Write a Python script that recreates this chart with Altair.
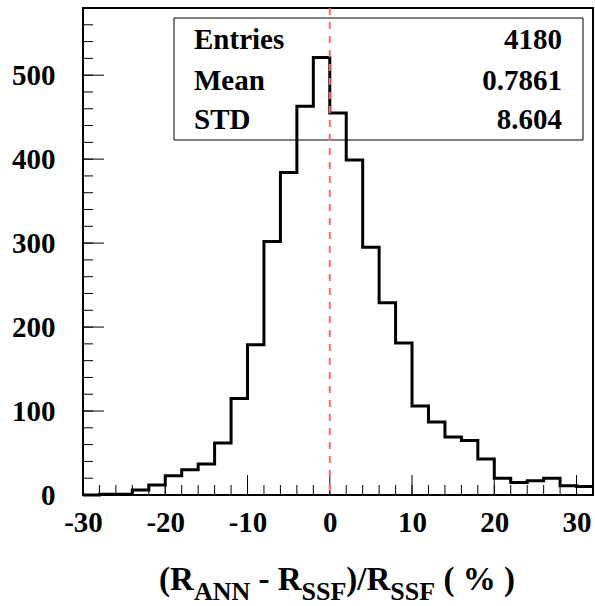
import altair as alt
import pandas as pd

# ---------------- data ----------------
bin_low = list(range(-30, 32, 2))          # lower bin edges, width 2
counts = [0, 1, 1, 6, 12, 23, 30, 37, 62, 115, 179, 302, 384, 463, 521,
          455, 399, 295, 229, 181, 106, 87, 69, 65, 43, 20, 15, 17, 20, 11, 10]
x_max = 32

x_major = [-30, -20, -10, 0, 10, 20, 30]
x_minor = list(range(-30, 33, 2))
y_major = [0, 100, 200, 300, 400, 500]
y_minor = list(range(0, 581, 20))

stat_names = ["Entries", "Mean", "STD"]
stat_values = ["4180", "0.7861", "8.604"]

# ---------------- layout ----------------
W, H = 510, 487
FONT = "Liberation Serif"

line_df = pd.DataFrame({"x": bin_low + [x_max], "y": counts + [counts[-1]]})

xs = alt.Scale(domain=[-30, 32], nice=False, zero=False)
ys = alt.Scale(domain=[0, 580], nice=False, zero=False)

base_axis_x = alt.Axis(values=x_major, ticks=False, domain=False, grid=False,
                       labelFont=FONT, labelFontWeight="bold", labelFontSize=29,
                       labelPadding=13, labelColor="black", title=None,
                       labelFlush=False, labelExpr="'' + datum.value")
base_axis_y = alt.Axis(values=y_major, ticks=False, domain=False, grid=False,
                       labelFont=FONT, labelFontWeight="bold", labelFontSize=29,
                       labelPadding=28, labelColor="black", title=None,
                       labelExpr="'' + datum.value")

hist = alt.Chart(line_df).mark_line(
    interpolate="step-after", color="black", strokeWidth=3, strokeJoin="miter"
).encode(
    x=alt.X("x:Q", scale=xs, axis=base_axis_x),
    y=alt.Y("y:Q", scale=ys, axis=base_axis_y),
)

# inward ticks
xmaj = alt.Chart(pd.DataFrame({"v": x_major})).mark_rule(color="black", strokeWidth=1).encode(
    x=alt.X("v:Q", scale=xs), y=alt.value(H), y2=alt.value(H - 20))
xmin = alt.Chart(pd.DataFrame({"v": x_minor})).mark_rule(color="black", strokeWidth=1).encode(
    x=alt.X("v:Q", scale=xs), y=alt.value(H), y2=alt.value(H - 10))
ymaj = alt.Chart(pd.DataFrame({"v": y_major})).mark_rule(color="black", strokeWidth=1).encode(
    y=alt.Y("v:Q", scale=ys), x=alt.value(0), x2=alt.value(21))
ymin = alt.Chart(pd.DataFrame({"v": y_minor})).mark_rule(color="black", strokeWidth=1).encode(
    y=alt.Y("v:Q", scale=ys), x=alt.value(0), x2=alt.value(10))

zero_line = alt.Chart(pd.DataFrame({"v": [0]})).mark_rule(
    color="#ff6a6a", strokeWidth=2, strokeDash=[7, 7]
).encode(x=alt.X("v:Q", scale=xs), y=alt.value(0), y2=alt.value(H))

# stats box
box = alt.Chart(pd.DataFrame({"a": [0]})).mark_rect(
    fill=None, stroke="black", strokeWidth=1
).encode(x=alt.value(91), x2=alt.value(500), y=alt.value(10), y2=alt.value(132))

stat_y = [41, 82, 120.5]
names_txt = []
for i in range(3):
    names_txt.append(
        alt.Chart(pd.DataFrame({"t": [stat_names[i]]})).mark_text(
            font=FONT, fontWeight="bold", fontSize=29, align="left",
            baseline="alphabetic", color="black"
        ).encode(text="t:N", x=alt.value(111), y=alt.value(stat_y[i]))
    )
    names_txt.append(
        alt.Chart(pd.DataFrame({"t": [stat_values[i]]})).mark_text(
            font=FONT, fontWeight="bold", fontSize=29, align="right",
            baseline="alphabetic", color="black"
        ).encode(text="t:N", x=alt.value(479), y=alt.value(stat_y[i]))
    )

# x title with subscripts, composed of pieces
W_EM = {"(": 0.333, ")": 0.333, "R": 0.722, " ": 0.25, "-": 0.333, "/": 0.278,
        "%": 1.0, "A": 0.722, "N": 0.722, "S": 0.556, "F": 0.611}
MAIN, SUB = 33, 26
pieces = [("(R", MAIN, 0, 0), ("ANN", SUB, 10, 0), ("- R", MAIN, 0, 1),
          ("SSF", SUB, 10, 0), (")/R", MAIN, 0, 0), ("SSF", SUB, 10, 0),
          ("( % )", MAIN, 0, 1)]
total = 0
for t, s, d, lead in pieces:
    total += (lead * W_EM[" "] + sum(W_EM[c] for c in t)) * s
xpos = W / 2 - total / 2 - 1
title_layers = []
for t, s, d, lead in pieces:
    xpos += lead * W_EM[" "] * s
    title_layers.append(
        alt.Chart(pd.DataFrame({"t": [t]})).mark_text(
            font=FONT, fontWeight="bold", fontSize=s, align="left",
            baseline="alphabetic", color="black"
        ).encode(text="t:N", x=alt.value(xpos), y=alt.value(582 + d))
    )
    xpos += sum(W_EM[c] for c in t) * s

chart = alt.layer(
    box, hist, xmin, xmaj, ymin, ymaj, zero_line, *names_txt, *title_layers
).properties(
    width=W, height=H,
    autosize=alt.AutoSizeParams(type="none"),
    padding={"left": 83, "top": 8, "right": 2, "bottom": 111},
    background="white",
).configure_view(
    stroke="black", strokeWidth=2, fill="white"
)

chart.save("out.html", embed_options={"renderer": "svg", "actions": False})
